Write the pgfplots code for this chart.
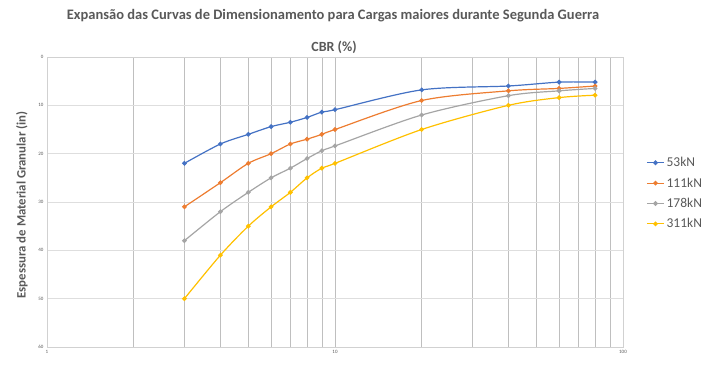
\documentclass[border=0pt]{standalone}
\usepackage{pgfplots}
\pgfplotsset{compat=1.18}
\usepackage{fontspec}
\setmainfont{Carlito}
\definecolor{cblue}{HTML}{4472C4}
\definecolor{corange}{HTML}{ED7D31}
\definecolor{cgray}{HTML}{A5A5A5}
\definecolor{cyellow}{HTML}{FFC000}
\definecolor{txt}{HTML}{595959}
\begin{document}
\begin{tikzpicture}[x=1pt,y=1pt]
\useasboundingbox (0,0) rectangle (704,366);
\begin{axis}[
  at={(47pt,19pt)}, anchor=south west,
  scale only axis, width=576pt, height=290pt,
  xmode=log, xmin=1, xmax=100,
  ymin=0, ymax=60, y dir=reverse,
  ytick={0,10,...,60},
  xtick={1,10,100}, xticklabels={1,10,100},
  minor xtick={2,3,4,5,6,7,8,9,20,30,40,50,60,70,80,90},
  xmajorgrids, xminorgrids, ymajorgrids,
  x grid style={draw=black!25, line width=0.6pt},
  y grid style={draw=black!13, line width=0.6pt},
  major tick length=0pt, minor tick length=0pt,
  axis line style={draw=black!18},
  /pgf/number format/assume math mode=true,
  tick label style={font=\fontsize{5}{6}\selectfont, text=txt},
  ylabel={\textbf{Espessura de Material Granular (in)}},
  ylabel style={font=\fontsize{12.8}{14}\selectfont, text=txt, at={(-25pt,0.49)}, anchor=center, rotate=0},
  legend style={draw=none, fill=none, at={(1.035,0.53)}, anchor=west, font=\fontsize{13.5}{15}\selectfont, text=txt, row sep=5.5pt, cells={anchor=west}},
  every axis plot/.append style={line width=1.2pt, mark=*, mark size=1.7pt, smooth, tension=0.5},
]
\addplot[cblue] coordinates {(3,22) (4,18) (5,16) (6,14.4) (7,13.5) (8,12.5) (9,11.4) (10,10.9) (20,6.8) (40,6) (60,5.2) (80,5.2)};
\addlegendentry{53kN}
\addplot[corange] coordinates {(3,31) (4,26) (5,22) (6,20) (7,18) (8,17) (9,16) (10,15) (20,9) (40,7) (60,6.5) (80,6)};
\addlegendentry{111kN}
\addplot[cgray] coordinates {(3,38) (4,32) (5,28) (6,25) (7,23) (8,21) (9,19.4) (10,18.4) (20,12) (40,8) (60,7) (80,6.5)};
\addlegendentry{178kN}
\addplot[cyellow] coordinates {(3,50) (4,41) (5,35) (6,31) (7,28) (8,25) (9,23) (10,22) (20,15) (40,10) (60,8.4) (80,7.9)};
\addlegendentry{311kN}
\end{axis}
\node[font=\fontsize{14.5}{16}\selectfont\bfseries, text=txt] at (333,350) {Expansão das Curvas de Dimensionamento para Cargas maiores durante Segunda Guerra};
\node[font=\fontsize{14}{16}\selectfont\bfseries, text=txt] at (334,318.5) {CBR (\%)};
\end{tikzpicture}
\end{document}
